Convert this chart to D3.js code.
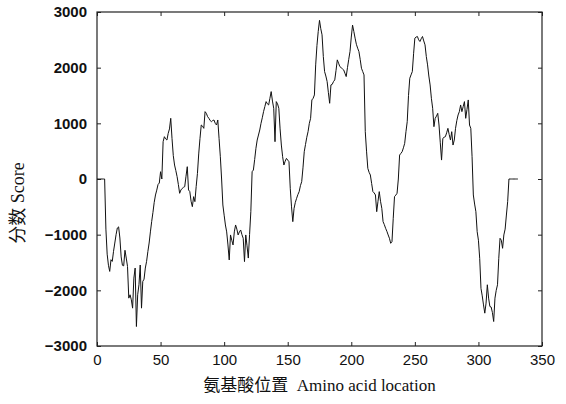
<!DOCTYPE html>
<html>
<head>
<meta charset="utf-8">
<script src="https://cdn.jsdelivr.net/npm/d3@7"></script>
<style>
  body { margin: 0; background: #fff; }
  text { fill: #111; }
</style>
</head>
<body>
<svg id="chart"></svg>
<script>
// hydropathy-like score, one value per amino acid position
const scores = [
  0, 0, 0, 0, 0, 0, 0, -900, -1350, -1550,
  -1660, -1450, -1480, -1300, -1150, -1000, -880, -860, -1060, -1400,
  -1550, -1560, -1280, -1420, -1570, -2140, -2080, -2170, -2320, -1780,
  -1600, -2650, -2080, -1900, -1545, -2320, -1840, -1800, -1600, -1480,
  -1305, -1150, -950, -766, -600, -420, -287, -200, -100, -72,
  131, 0, 670, 760, 720, 700, 820, 900, 1090, 730,
  420, 251, 150, 42, -100, -257, -197, -170, -150, -137,
  50, 221, -197, -227, -400, -497, -317, -407, -137, 100,
  450, 730, 970, 950, 910, 1210, 1180, 1120, 1090, 1050,
  1030, 1050, 1060, 1000, 970, 1060, 730, 400, 0, -467,
  -650, -826, -950, -1185, -1454, -1005, -1100, -1185, -950, -826,
  -900, -1005, -950, -916, -1000, -1065, -1484, -1005, -1200, -1420,
  -1000, -587, 131, 161, 350, 551, 700, 790, 880, 1000,
  1100, 1210, 1300, 1390, 1350, 1330, 1450, 1570, 1400, 1270,
  670, 1390, 1350, 1270, 900, 610, 400, 251, 320, 370,
  340, 310, -167, -500, -766, -527, -420, -347, -280, -227,
  -120, -48, 200, 490, 620, 750, 850, 1000, 1090, 1420,
  1450, 1510, 2050, 2400, 2650, 2850, 2700, 2590, 2200, 1930,
  1850, 1750, 1550, 1360, 1690, 1700, 1750, 1780, 1950, 2140,
  2080, 2020, 2000, 1980, 1960, 1900, 1840, 2000, 2150, 2290,
  2550, 2765, 2650, 2530, 2420, 2350, 2290, 2150, 1990, 1930,
  1870, 850, 500, 191, 120, 72, -80, -227, -250, -287,
  -587, -400, -227, -400, -527, -766, -820, -886, -940, -1005,
  -1065, -1155, -1125, -706, -317, -290, -257, 0, 430, 460,
  490, 560, 640, 850, 1030, 1500, 1810, 1870, 1930, 2250,
  2530, 2550, 2560, 2500, 2470, 2520, 2560, 2480, 2410, 2200,
  2050, 1850, 1690, 1450, 1270, 940, 1090, 1130, 1180, 970,
  650, 340, 730, 750, 760, 830, 910, 800, 700, 850,
  610, 700, 910, 1050, 1150, 1210, 1330, 1210, 1300, 1390,
  1090, 1250, 1420, 970, 910, 400, -287, -450, -587, -946,
  -1100, -1425, -1964, -2100, -2262, -2410, -2230, -1900, -2140, -2290,
  -2300, -2400, -2560, -2140, -2000, -1900, -1425, -1065, -1100, -1245,
  -1005, -900, -647, -407, 0, 0, 0, 0, 0, 0,
  0, 0
];
const xTicks = [0, 50, 100, 150, 200, 250, 300, 350];
const yTicks = [-3000, -2000, -1000, 0, 1000, 2000, 3000];

const width = 566;
const height = 404;
const margin = { top: 12, right: 24, bottom: 58, left: 97 };

const svg = d3.select('#chart')
  .attr('width', width)
  .attr('height', height)
  .style('font-family', '"Liberation Serif", "Times New Roman", serif');

const x = d3.scaleLinear().domain([0, 350]).range([margin.left, width - margin.right]);
const y = d3.scaleLinear().domain([-3000, 3000]).range([height - margin.bottom, margin.top]);

// inner ticks on all four sides
svg.append('g')
  .attr('transform', `translate(0,${height - margin.bottom})`)
  .call(d3.axisBottom(x).tickValues(xTicks).tickSizeInner(-4).tickSizeOuter(0).tickPadding(8))
  .call(g => g.selectAll('text').attr('font-size', 15));

svg.append('g')
  .attr('transform', `translate(0,${margin.top})`)
  .call(d3.axisTop(x).tickValues(xTicks).tickSizeInner(-4).tickSizeOuter(0).tickFormat(''));

svg.append('g')
  .attr('transform', `translate(${margin.left},0)`)
  .call(d3.axisLeft(y).tickValues(yTicks).tickSizeInner(-4).tickSizeOuter(0).tickPadding(10)
    .tickFormat(d => d < 0 ? '\u2212' + Math.abs(d) : d))
  .call(g => g.selectAll('text').attr('font-size', 15).attr('font-weight', 'bold'));

svg.append('g')
  .attr('transform', `translate(${width - margin.right},0)`)
  .call(d3.axisRight(y).tickValues(yTicks).tickSizeInner(-4).tickSizeOuter(0).tickFormat(''));

svg.selectAll('.domain').remove();
svg.selectAll('.tick line').attr('stroke', '#222');

svg.append('rect')
  .attr('x', margin.left)
  .attr('y', margin.top)
  .attr('width', width - margin.left - margin.right)
  .attr('height', height - margin.top - margin.bottom)
  .attr('fill', 'none')
  .attr('stroke', '#222')
  .attr('stroke-width', 1.2);

const line = d3.line()
  .x((d, i) => x(i))
  .y(d => y(d));

svg.append('path')
  .datum(scores)
  .attr('d', line)
  .attr('fill', 'none')
  .attr('stroke', '#111')
  .attr('stroke-width', 1);

// axis titles
svg.append('text')
  .attr('x', (margin.left + width - margin.right) / 2)
  .attr('y', 391)
  .attr('text-anchor', 'middle')
  .attr('font-size', 17)
  .call(t => {
    t.append('tspan').attr('font-family', '"Noto Sans CJK SC", sans-serif').text('氨基酸位置');
    t.append('tspan').text('\u00a0 Amino acid location');
  });

svg.append('text')
  .attr('transform', 'translate(24,203) rotate(-90)')
  .attr('text-anchor', 'middle')
  .attr('font-size', 18)
  .call(t => {
    t.append('tspan').attr('font-family', '"Noto Sans CJK SC", sans-serif').text('分数');
    t.append('tspan').text(' Score');
  });
</script>
</body>
</html>
